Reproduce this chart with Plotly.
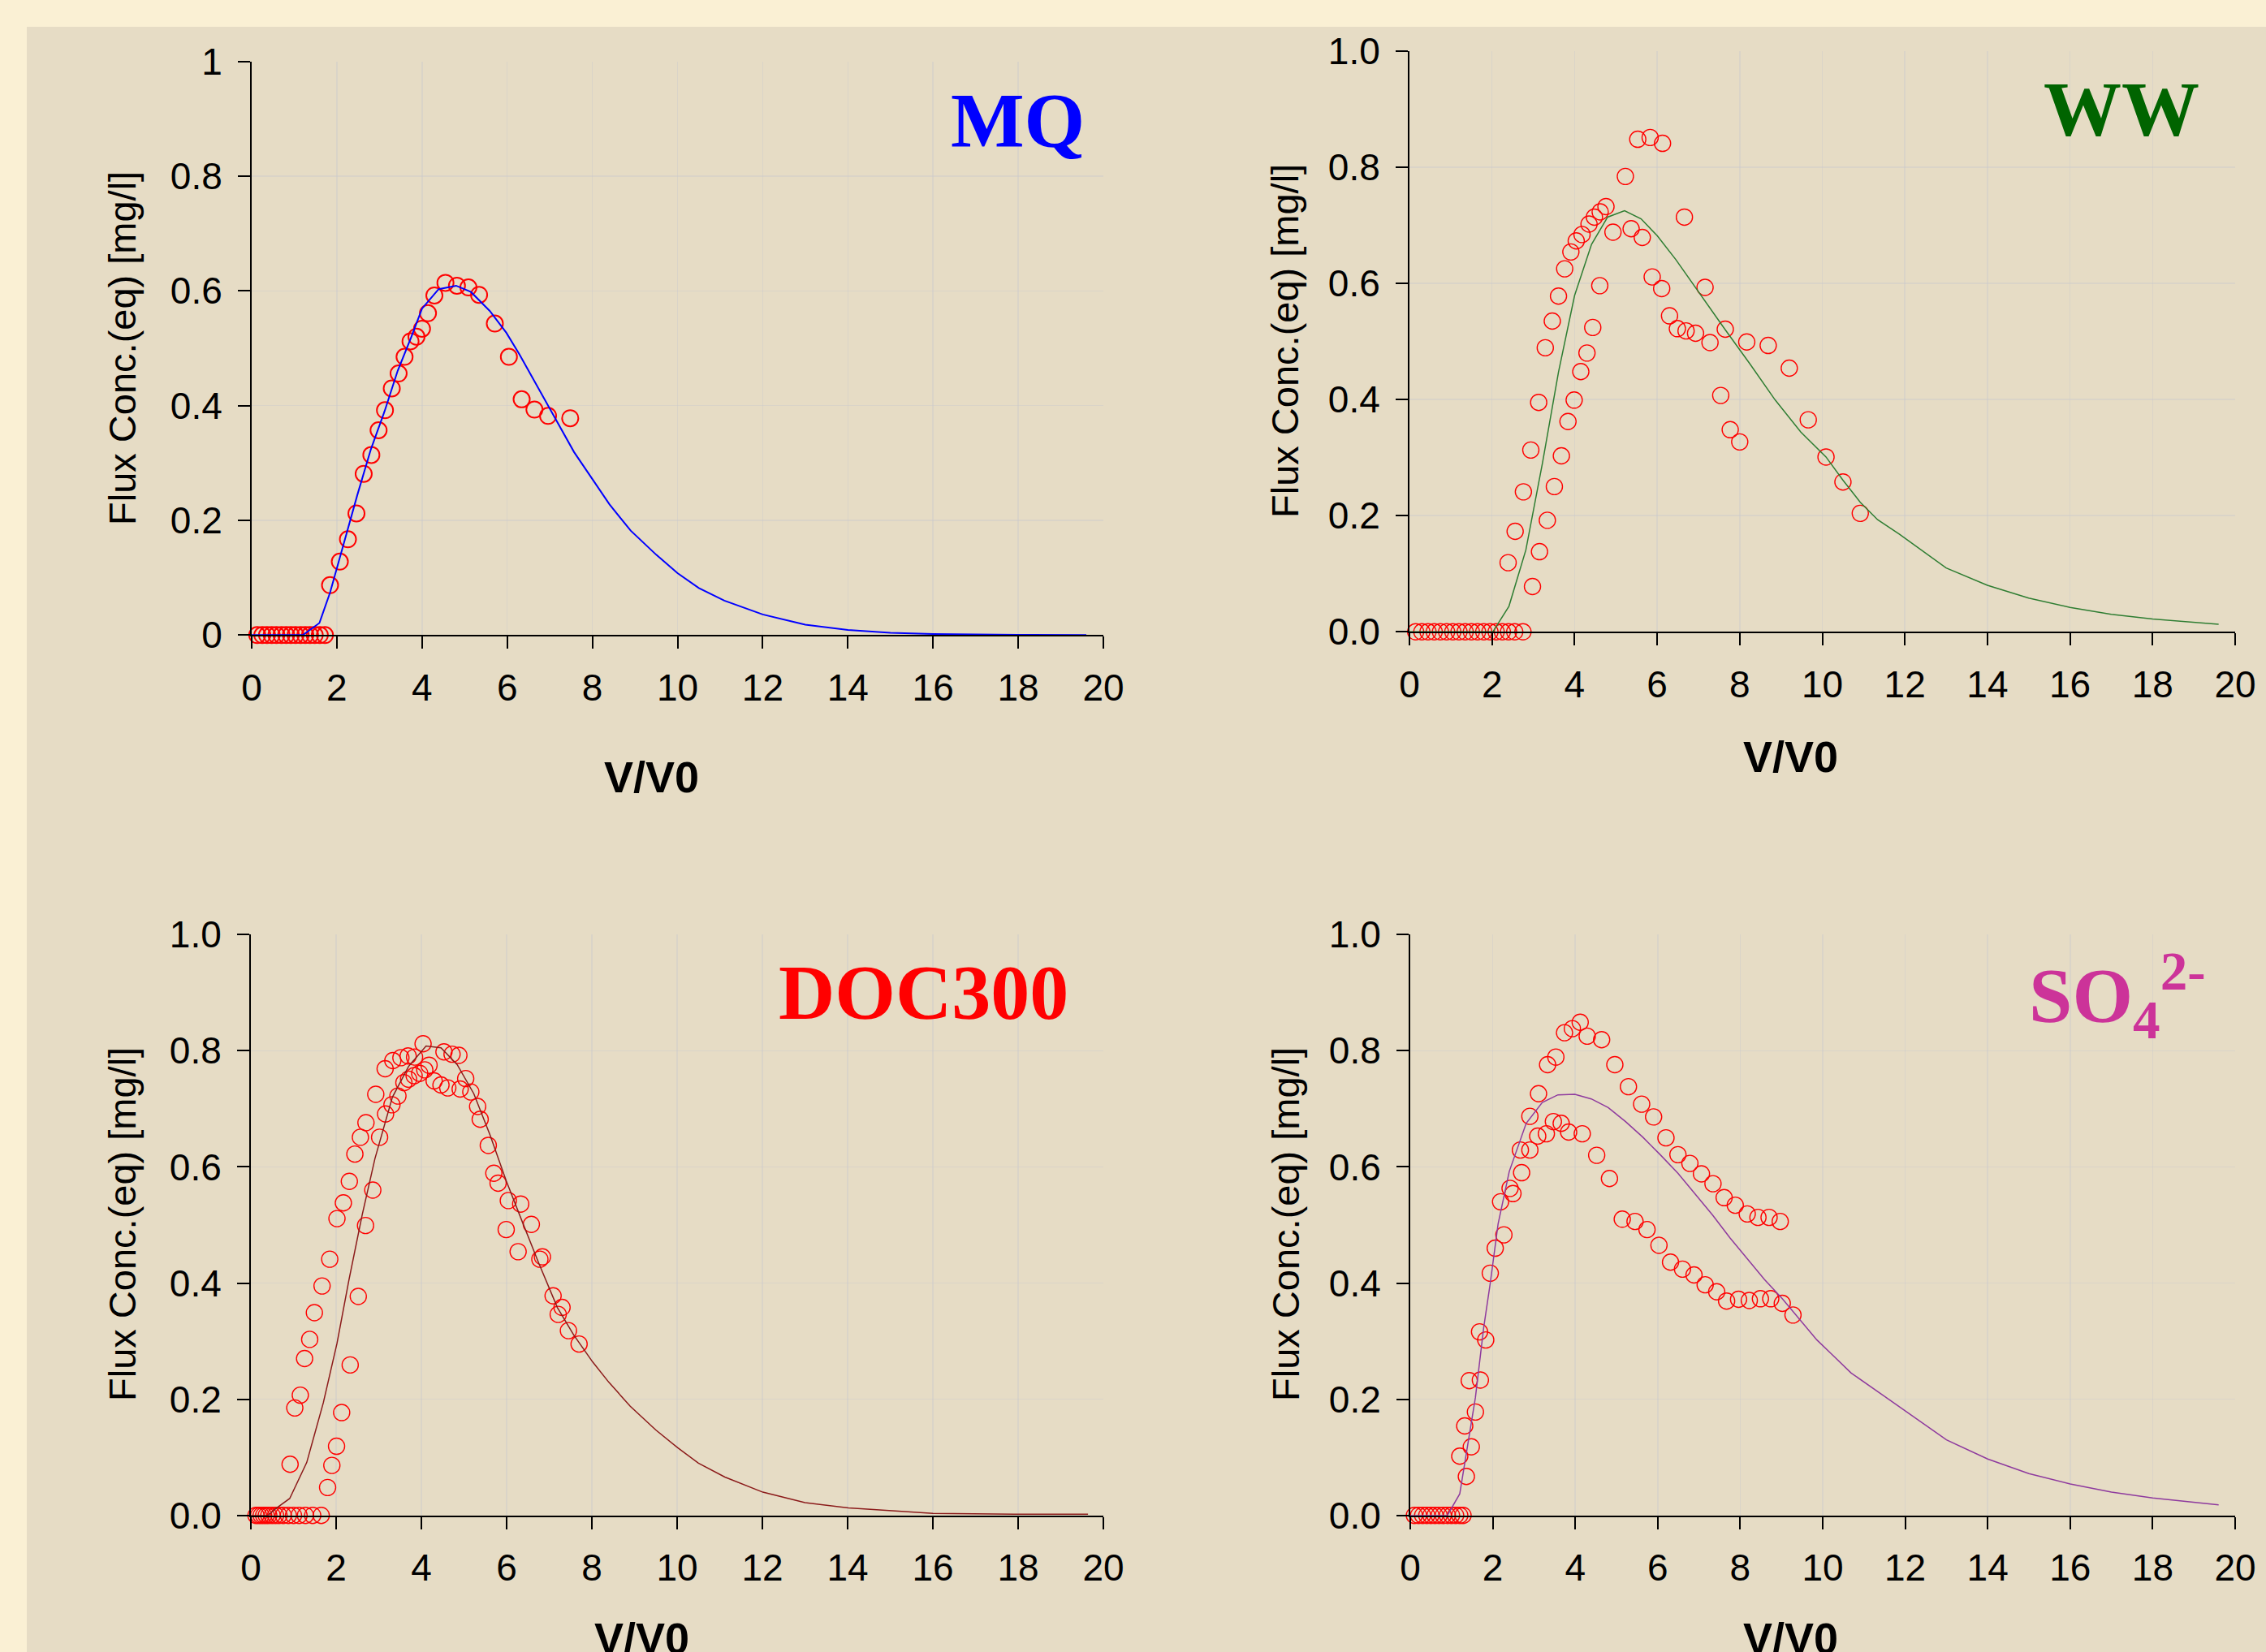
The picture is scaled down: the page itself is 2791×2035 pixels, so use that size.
import plotly.graph_objects as go

# ---------------- data ----------------
# MQ
mq_meas_x = [0.13, 0.25, 0.36, 0.47, 0.58, 0.70, 0.81, 0.92, 1.03, 1.15, 1.26, 1.37, 1.48, 1.60, 1.72,
             1.84, 2.07, 2.26, 2.46, 2.63, 2.81, 2.98, 3.13, 3.29, 3.45, 3.59, 3.73, 3.87, 4.00, 4.14,
             4.29, 4.55, 4.82, 5.09, 5.34, 5.71, 6.04, 6.34, 6.64, 6.96, 7.48]
mq_meas_y = [0, 0, 0, 0, 0, 0, 0, 0, 0, 0, 0, 0, 0, 0, 0,
             0.087, 0.128, 0.167, 0.212, 0.281, 0.314, 0.357, 0.392, 0.430, 0.456, 0.485, 0.512, 0.520, 0.534, 0.561,
             0.592, 0.614, 0.609, 0.606, 0.593, 0.543, 0.485, 0.411, 0.393, 0.382, 0.378]
mq_model_x = [0, 1.2, 1.59, 1.84, 2.16, 2.48, 2.8, 3.12, 3.43, 3.75, 4.0, 4.39, 4.8, 5.15, 5.59, 5.98, 6.29,
              6.61, 6.93, 7.25, 7.57, 8.0, 8.4, 8.9, 9.5, 10.0, 10.5, 11.1, 12, 13, 14, 15, 16, 18, 19.6]
mq_model_y = [0, 0, 0.021, 0.074, 0.159, 0.244, 0.324, 0.39, 0.461, 0.52, 0.569, 0.603, 0.609, 0.598, 0.565,
              0.527, 0.489, 0.447, 0.404, 0.362, 0.319, 0.272, 0.228, 0.182, 0.14, 0.108, 0.082, 0.06, 0.036,
              0.018, 0.009, 0.004, 0.002, 0.0005, 0]

# WW
ww_meas_x = [0.15, 0.3, 0.45, 0.6, 0.75, 0.9, 1.05, 1.2, 1.35, 1.5, 1.65, 1.8, 1.95, 2.1, 2.25, 2.4, 2.55, 2.75,
             2.39, 2.56, 2.76, 2.94, 2.98, 3.13, 3.15, 3.29, 3.34, 3.46, 3.51, 3.61, 3.68, 3.76, 3.84, 3.91,
             3.99, 4.04, 4.15, 4.18, 4.30, 4.35, 4.44, 4.48, 4.61, 4.62, 4.76, 4.93, 5.23, 5.37, 5.53, 5.64,
             5.83, 5.88, 6.11, 6.13, 6.30, 6.49, 6.66, 6.70, 6.93, 7.16, 7.28, 7.54, 7.65, 7.77, 8.00, 8.17,
             8.69, 9.20, 9.66, 10.09, 10.50, 10.92]
ww_meas_y = [0, 0, 0, 0, 0, 0, 0, 0, 0, 0, 0, 0, 0, 0, 0, 0, 0, 0,
             0.119, 0.173, 0.241, 0.313, 0.078, 0.395, 0.138, 0.489, 0.192, 0.535, 0.250, 0.578, 0.303, 0.625,
             0.362, 0.654, 0.399, 0.673, 0.448, 0.684, 0.480, 0.702, 0.524, 0.714, 0.596, 0.723, 0.732, 0.688,
             0.784, 0.694, 0.848, 0.679, 0.851, 0.611, 0.591, 0.841, 0.544, 0.522, 0.714, 0.518, 0.514, 0.593,
             0.498, 0.407, 0.521, 0.348, 0.327, 0.499, 0.493, 0.454, 0.365, 0.301, 0.258, 0.204]
ww_model_x = [0, 2.02, 2.41, 2.82, 3.22, 3.61, 4.0, 4.41, 4.80, 5.21, 5.61, 6.0, 6.45, 6.92, 7.65, 8.24,
              8.86, 9.48, 10.09, 10.5, 10.92, 11.34, 11.87, 13, 14, 15, 16, 17, 18, 19.6]
ww_model_y = [0, 0, 0.044, 0.141, 0.29, 0.447, 0.579, 0.667, 0.714, 0.725, 0.711, 0.682, 0.641, 0.593,
              0.52, 0.462, 0.399, 0.344, 0.301, 0.261, 0.223, 0.193, 0.168, 0.11, 0.08, 0.058, 0.042,
              0.03, 0.022, 0.013]

# DOC300
doc_meas_x = [0.12, 0.18, 0.24, 0.30, 0.36, 0.42, 0.50, 0.58, 0.66, 0.76, 0.88, 1.00, 1.13, 1.28, 1.45, 1.65,
              0.92, 1.03, 1.16, 1.26, 1.38, 1.49, 1.67, 1.85, 2.02, 2.17, 2.31, 2.44, 2.57, 2.70, 2.93, 3.15,
              3.33, 3.52, 3.69, 3.84, 4.04, 4.53, 4.72, 4.88,
              1.80, 1.90, 2.01, 2.13, 2.33, 2.52, 2.69, 2.86, 3.02, 3.16, 3.31, 3.45, 3.59, 3.70, 3.83, 3.96,
              4.08, 4.18, 4.30, 4.46, 4.62, 4.91,
              5.04, 5.16, 5.32, 5.38, 5.57, 5.70, 5.80, 5.99, 6.04, 6.27, 6.33, 6.58, 6.78, 6.84, 7.09, 7.21,
              7.30, 7.45, 7.70]
doc_meas_y = [0, 0, 0, 0, 0, 0, 0, 0, 0, 0, 0, 0, 0, 0, 0, 0,
              0.088, 0.185, 0.207, 0.270, 0.303, 0.349, 0.395, 0.441, 0.511, 0.538, 0.575, 0.622, 0.651, 0.676,
              0.725, 0.769, 0.783, 0.788, 0.791, 0.789, 0.812, 0.798, 0.794, 0.792,
              0.048, 0.086, 0.119, 0.177, 0.259, 0.377, 0.499, 0.560, 0.651, 0.691, 0.707, 0.722, 0.745, 0.751,
              0.757, 0.761, 0.767, 0.775, 0.748, 0.741, 0.736, 0.734,
              0.752, 0.729, 0.704, 0.682, 0.637, 0.589, 0.572, 0.492, 0.542, 0.454, 0.536, 0.501, 0.441, 0.445,
              0.378, 0.346, 0.358, 0.318, 0.295]
doc_model_x = [0, 0.4, 0.59, 0.91, 1.31, 1.70, 2.02, 2.30, 2.61, 2.91, 3.32, 3.70, 4.11, 4.46, 4.84, 5.23,
               5.61, 5.99, 6.37, 6.75, 7.19, 7.57, 8.02, 8.4, 8.9, 9.5, 10.02, 10.5, 11.12, 12.01, 13.0, 14.02,
               16.0, 17.9, 19.64]
doc_model_y = [0, 0, 0.012, 0.029, 0.091, 0.194, 0.296, 0.405, 0.517, 0.614, 0.72, 0.773, 0.808, 0.805,
               0.776, 0.726, 0.655, 0.576, 0.505, 0.435, 0.358, 0.311, 0.264, 0.229, 0.188, 0.147, 0.116,
               0.09, 0.066, 0.04, 0.022, 0.013, 0.0035, 0.002, 0.002]

# SO4 2-
so4_meas_x = [0.1, 0.2, 0.3, 0.4, 0.5, 0.6, 0.7, 0.8, 0.9, 1.0, 1.1, 1.2, 1.28,
              1.36, 1.20, 1.48, 1.32, 1.58, 1.43, 1.70, 1.68, 1.83, 1.94, 2.06, 2.27, 2.19, 2.42, 2.49, 2.70,
              2.67, 2.90, 2.90, 3.09, 3.30, 3.11, 3.47, 3.66, 3.84, 4.17, 3.33, 3.53, 3.74, 3.93, 4.12, 4.29,
              4.64, 4.52, 4.83, 4.96, 5.14, 5.29, 5.45, 5.61, 5.74, 5.90, 6.03, 6.20, 6.31, 6.49, 6.60, 6.78,
              6.88, 7.06, 7.15, 7.34, 7.43, 7.61, 7.67, 7.88, 7.96, 8.17, 8.22, 8.43, 8.49, 8.70, 8.74, 8.97,
              9.02, 9.28]
so4_meas_y = [0, 0, 0, 0, 0, 0, 0, 0, 0, 0, 0, 0, 0,
              0.067, 0.102, 0.118, 0.154, 0.178, 0.232, 0.233, 0.316, 0.302, 0.417, 0.460, 0.483, 0.540, 0.563,
              0.554, 0.590, 0.629, 0.629, 0.687, 0.653, 0.657, 0.726, 0.678, 0.675, 0.660, 0.657, 0.776, 0.789,
              0.831, 0.838, 0.849, 0.825, 0.819, 0.620, 0.580, 0.776, 0.510, 0.738, 0.506, 0.708, 0.492, 0.686,
              0.465, 0.650, 0.436, 0.621, 0.424, 0.606, 0.414, 0.588, 0.397, 0.571, 0.385, 0.547, 0.369, 0.534,
              0.372, 0.519, 0.370, 0.513, 0.373, 0.513, 0.373, 0.506, 0.365, 0.345]
so4_model_x = [0, 0.9, 1.2, 1.58, 1.78, 1.94, 2.13, 2.40, 2.81, 3.20, 3.58, 3.99, 4.39, 4.80, 5.22, 5.64,
               6.06, 6.49, 6.91, 7.33, 7.75, 8.17, 8.59, 9.02, 9.44, 9.86, 10.21, 10.69, 11.5, 12, 13, 14,
               15, 16, 17, 18, 19, 19.6]
so4_model_y = [0, 0, 0.037, 0.203, 0.323, 0.40, 0.502, 0.592, 0.675, 0.711, 0.724, 0.725, 0.717, 0.702,
               0.678, 0.651, 0.621, 0.589, 0.553, 0.517, 0.478, 0.442, 0.406, 0.373, 0.338, 0.302, 0.278,
               0.245, 0.205, 0.18, 0.13, 0.097, 0.072, 0.054, 0.04, 0.03, 0.022, 0.018]

x_ticks = [0, 2, 4, 6, 8, 10, 12, 14, 16, 18, 20]
y_ticks = [0, 0.2, 0.4, 0.6, 0.8, 1.0]

# ---------------- layout helpers ----------------
W, H = 2791, 2035
def fx(p):
    return p / W
def fy(p):
    return 1 - p / H

SANS = "Arial, Liberation Sans, sans-serif"
TICK_FONT = dict(family=SANS, size=46, color="black")
TITLE_FAMILY = "Times New Roman, Liberation Serif, serif"

panels = [
    dict(mx=mq_meas_x, my=mq_meas_y, cx=mq_model_x, cy=mq_model_y, col="#0000FF", mlw=2.0, lw=2.0,
         box=(310, 1359, 75.6, 782.3), fmt="", ytitle=(150, 429), xtitle=(802, 957),
         title="<b>MQ</b>", tcol="#0000FF", tpos=(1253, 148), tanchor="center"),
    dict(mx=ww_meas_x, my=ww_meas_y, cx=ww_model_x, cy=ww_model_y, col="#2E7D32", mlw=1.4, lw=1.5,
         box=(1736, 2753, 62.8, 778.3), fmt=".1f", ytitle=(1583, 420), xtitle=(2205, 932),
         title="<b>WW</b>", tcol="#006400", tpos=(2613, 134), tanchor="center"),
    dict(mx=doc_meas_x, my=doc_meas_y, cx=doc_model_x, cy=doc_model_y, col="#8B1A1A", mlw=1.4, lw=1.5,
         box=(309, 1359, 1151.2, 1866.7), fmt=".1f", ytitle=(150, 1508), xtitle=(790, 2018),
         title="<b>DOC300</b>", tcol="#FF0000", tpos=(1137, 1222), tanchor="center"),
    dict(mx=so4_meas_x, my=so4_meas_y, cx=so4_model_x, cy=so4_model_y, col="#8E3A9E", mlw=1.4, lw=1.5,
         box=(1737, 2753, 1151.2, 1866.7), fmt=".1f", ytitle=(1583, 1508), xtitle=(2205, 2018),
         title="<b>SO<sub>4</sub><sup>2-</sup></b>", tcol="#CC3399", tpos=(2497, 1226), tanchor="left"),
]

fig = go.Figure()
annotations = []
layout_axes = {}

for i, p in enumerate(panels, start=1):
    sfx = "" if i == 1 else str(i)
    xa, ya = "x" + sfx, "y" + sfx
    fig.add_trace(go.Scatter(x=p["mx"], y=p["my"], mode="markers", xaxis=xa, yaxis=ya,
                             marker=dict(symbol="circle-open", size=20, color="#FF0000",
                                         line=dict(width=p["mlw"], color="#FF0000")),
                             cliponaxis=False, showlegend=False, name="measured"))
    fig.add_trace(go.Scatter(x=p["cx"], y=p["cy"], mode="lines", xaxis=xa, yaxis=ya,
                             line=dict(color=p["col"], width=p["lw"]),
                             cliponaxis=False, showlegend=False, name="model"))
    l, r, t, b = p["box"]
    xdom = [fx(l), fx(r)]
    ydom = [fy(b), fy(t)]
    common = dict(automargin=False, fixedrange=True, zeroline=False)
    layout_axes["xaxis" + sfx] = dict(domain=xdom, anchor=ya, range=[0, 20], tickvals=x_ticks,
                                      showline=True, linecolor="black", linewidth=2,
                                      ticks="outside", ticklen=15, tickwidth=2, tickcolor="black",
                                      showgrid=True, gridcolor="rgba(200,200,205,0.4)", gridwidth=1.5,
                                      tickfont=TICK_FONT, ticklabelstandoff=8, **common)
    layout_axes["yaxis" + sfx] = dict(domain=ydom, anchor=xa, range=[0, 1], tickvals=y_ticks,
                                      tickformat=p["fmt"],
                                      showline=True, linecolor="black", linewidth=2,
                                      ticks="outside", ticklen=15, tickwidth=2, tickcolor="black",
                                      showgrid=True, gridcolor="rgba(200,200,205,0.4)", gridwidth=1.5,
                                      tickfont=TICK_FONT, ticklabelstandoff=10, **common)
    # overlay axes that draw the inner half of each tick (ticks cross the axis lines)
    k = i + 4
    layout_axes["xaxis" + str(k)] = dict(overlaying=xa, anchor=ya, range=[0, 20], tickvals=x_ticks,
                                         ticks="inside", ticklen=14, tickwidth=2, tickcolor="black",
                                         showticklabels=False, showgrid=False, showline=False,
                                         side="bottom", **common)
    layout_axes["yaxis" + str(k)] = dict(overlaying=ya, anchor=xa, range=[0, 1], tickvals=y_ticks,
                                         ticks="inside", ticklen=15, tickwidth=2, tickcolor="black",
                                         showticklabels=False, showgrid=False, showline=False,
                                         side="left", **common)
    annotations.append(dict(text="Flux Conc.(eq) [mg/l]", textangle=-90, showarrow=False,
                            xref="paper", yref="paper", x=fx(p["ytitle"][0]), y=fy(p["ytitle"][1]),
                            xanchor="center", yanchor="middle",
                            font=dict(family=SANS, size=47, color="black")))
    annotations.append(dict(text="<b>V/V0</b>", showarrow=False,
                            xref="paper", yref="paper", x=fx(p["xtitle"][0]), y=fy(p["xtitle"][1]),
                            xanchor="center", yanchor="middle",
                            font=dict(family=SANS, size=54, color="black")))
    annotations.append(dict(text=p["title"], showarrow=False,
                            xref="paper", yref="paper", x=fx(p["tpos"][0]), y=fy(p["tpos"][1]),
                            xanchor=p["tanchor"], yanchor="middle",
                            font=dict(family=TITLE_FAMILY, size=96, color=p["tcol"])))

fig.update_layout(
    template="none",
    width=W, height=H, autosize=False,
    margin=dict(l=0, r=0, t=0, b=0, pad=0),
    paper_bgcolor="#FAF0D4",
    plot_bgcolor="rgba(0,0,0,0)",
    annotations=annotations,
    shapes=[dict(type="rect", xref="paper", yref="paper", x0=fx(33), x1=1.0, y0=0.0, y1=fy(33),
                 fillcolor="#E6DCC5", line=dict(width=0), layer="below")],
    **layout_axes,
)

fig.write_html("out.html",
               config={"displayModeBar": False, "staticPlot": True},
               post_script="document.body.style.margin='0px';document.body.style.overflow='hidden';")
